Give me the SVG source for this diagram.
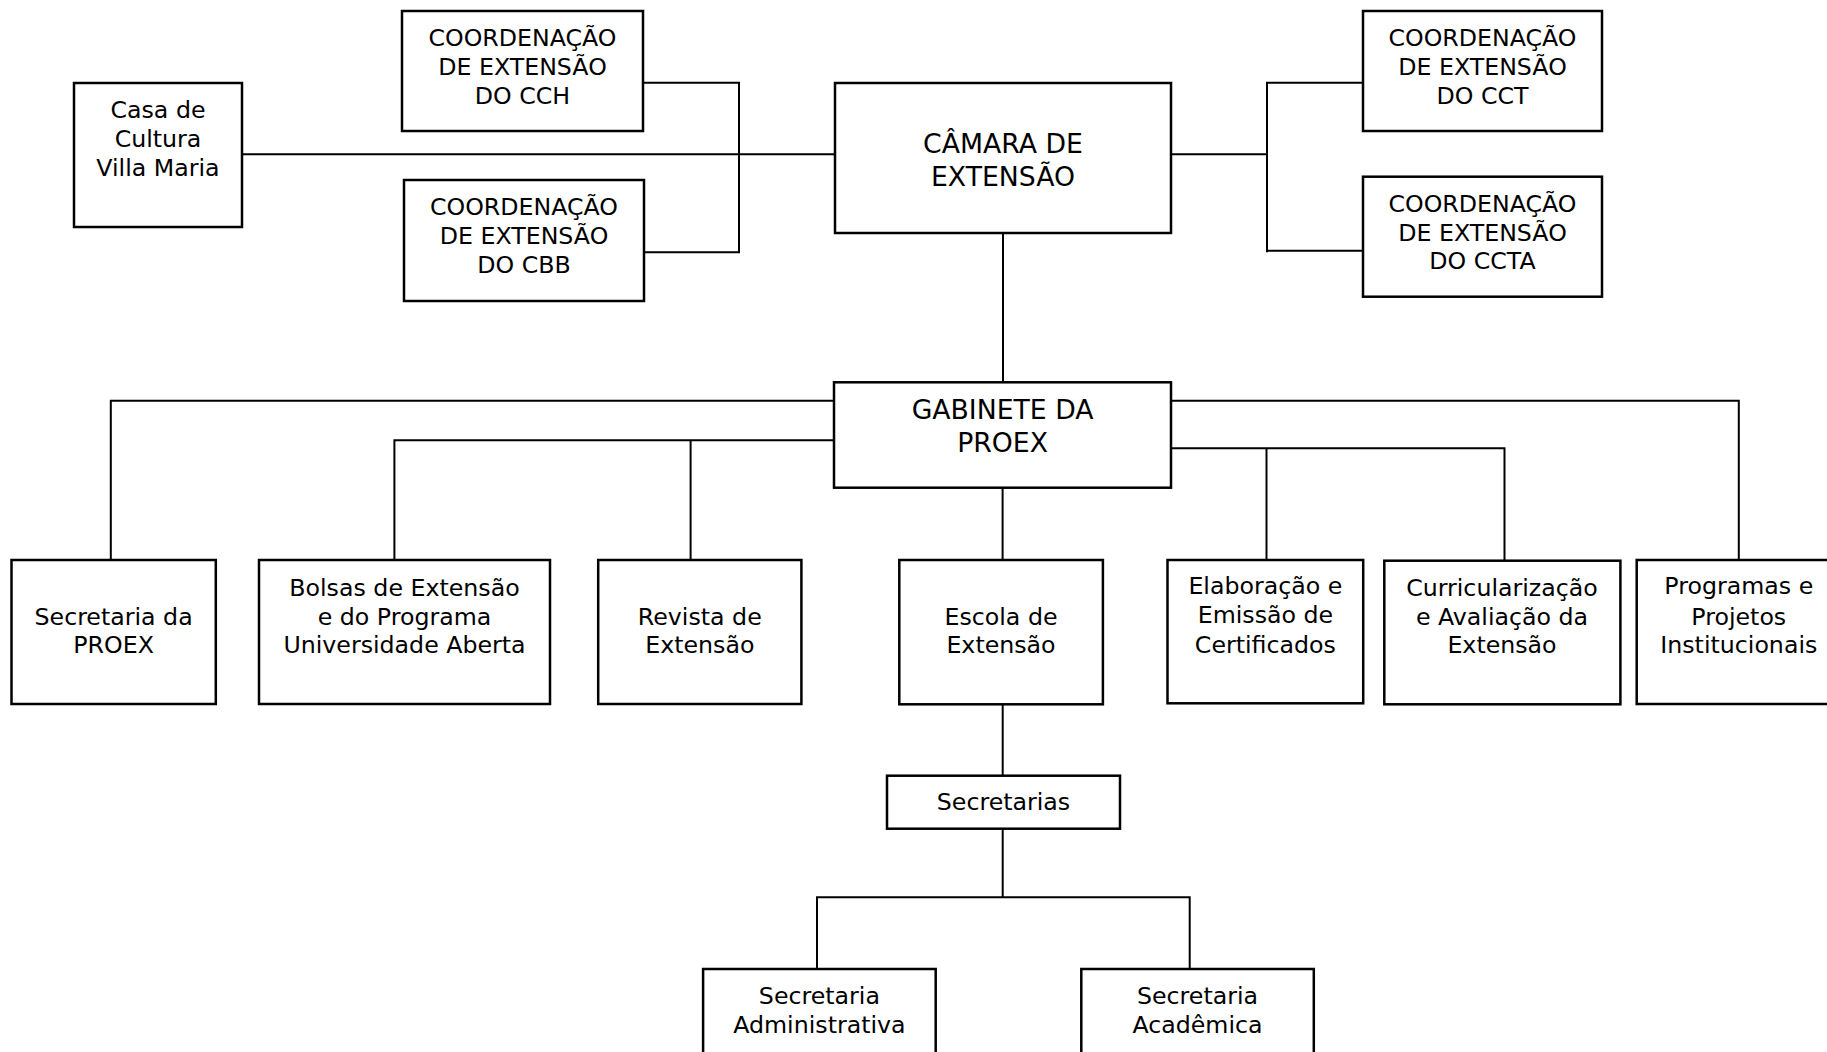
<svg xmlns="http://www.w3.org/2000/svg" width="1827" height="1052" viewBox="0 0 1827 1052">
<style>
.box{fill:#fff;stroke:#000;stroke-width:2.5}
.c{fill:none;stroke:#000;stroke-width:2}
text{font-family:"DejaVu Sans",Verdana,sans-serif;font-size:23.7px;fill:#000;text-anchor:middle}
.big{font-size:26.7px}
</style>
<rect width="1827" height="1052" fill="#fff"/>
<g id="connectors">
<path class="c" d="M242,154.3H835"/>
<path class="c" d="M643,82.7H739V252.3H644"/>
<path class="c" d="M1171,154.3H1267"/>
<path class="c" d="M1363,82.7H1267V252.3"/>
<path class="c" d="M1267,250.7H1363"/>
<path class="c" d="M1003,233V382"/>
<path class="c" d="M834,400.7H110.8V560"/>
<path class="c" d="M834,440.3H394.4V560"/>
<path class="c" d="M690.6,440.3V560"/>
<path class="c" d="M1002.6,488V560"/>
<path class="c" d="M1171,400.7H1738.8V560"/>
<path class="c" d="M1171,448.3H1504.5V560"/>
<path class="c" d="M1266.5,448.3V560"/>
<path class="c" d="M1002.7,704V775.7"/>
<path class="c" d="M1002.7,828.7V897.3"/>
<path class="c" d="M817,969V897.3H1189.7V969"/>
</g>
<g id="casa"><rect class="box" x="74" y="83" width="168" height="144"/>
<text x="158" y="118">Casa de</text><text x="158" y="147">Cultura</text><text x="158" y="176">Villa Maria</text></g>
<g id="cch"><rect class="box" x="402" y="11" width="241" height="120"/>
<text x="522.5" y="45.7">COORDENAÇÃO</text><text x="522.5" y="75">DE EXTENSÃO</text><text x="522.5" y="104">DO CCH</text></g>
<g id="cbb"><rect class="box" x="404" y="180" width="240" height="121"/>
<text x="524" y="215">COORDENAÇÃO</text><text x="524" y="244.3">DE EXTENSÃO</text><text x="524" y="273.3">DO CBB</text></g>
<g id="camara"><rect class="box" x="835" y="83" width="336" height="150"/>
<text class="big" x="1003" y="152.7">CÂMARA DE</text><text class="big" x="1003" y="185.7">EXTENSÃO</text></g>
<g id="cct"><rect class="box" x="1363" y="11" width="239" height="120"/>
<text x="1482.5" y="45.7">COORDENAÇÃO</text><text x="1482.5" y="75">DE EXTENSÃO</text><text x="1482.5" y="104">DO CCT</text></g>
<g id="ccta"><rect class="box" x="1363" y="176.7" width="239" height="120"/>
<text x="1482.5" y="211.7">COORDENAÇÃO</text><text x="1482.5" y="240.7">DE EXTENSÃO</text><text x="1482.5" y="269.3">DO CCTA</text></g>
<g id="gabinete"><rect class="box" x="834" y="382.3" width="337" height="105.4"/>
<text class="big" x="1002.6" y="419">GABINETE DA</text><text class="big" x="1002.6" y="451.7">PROEX</text></g>
<g id="secproex"><rect class="box" x="11.5" y="560" width="204.3" height="144"/>
<text x="113.6" y="625">Secretaria da</text><text x="113.6" y="653.3">PROEX</text></g>
<g id="bolsas"><rect class="box" x="259" y="560" width="291" height="144"/>
<text x="404.5" y="595.7">Bolsas de Extensão</text><text x="404.5" y="625">e do Programa</text><text x="404.5" y="653.3">Universidade Aberta</text></g>
<g id="revista"><rect class="box" x="598.2" y="560" width="203.2" height="144"/>
<text x="699.8" y="625">Revista de</text><text x="699.8" y="653.3">Extensão</text></g>
<g id="escola"><rect class="box" x="899.3" y="560" width="203.6" height="144.3"/>
<text x="1001" y="625">Escola de</text><text x="1001" y="653.3">Extensão</text></g>
<g id="elaboracao"><rect class="box" x="1167.5" y="560" width="195.7" height="143.3"/>
<text x="1265.4" y="594">Elaboração e</text><text x="1265.4" y="623.3">Emissão de</text><text x="1265.4" y="652.7">Certificados</text></g>
<g id="curricularizacao"><rect class="box" x="1384.3" y="560.7" width="236.1" height="143.6"/>
<text x="1502" y="595.7">Curricularização</text><text x="1502" y="625">e Avaliação da</text><text x="1502" y="653.3">Extensão</text></g>
<g id="programas"><rect class="box" x="1636.7" y="560" width="205" height="144"/>
<text x="1738.8" y="594">Programas e</text><text x="1738.8" y="625">Projetos</text><text x="1738.8" y="652.7">Institucionais</text></g>
<g id="secretarias"><rect class="box" x="887" y="775.7" width="233" height="53"/>
<text x="1003.5" y="810">Secretarias</text></g>
<g id="secadm"><rect class="box" x="703.1" y="969" width="232.6" height="100"/>
<text x="819.4" y="1004">Secretaria</text><text x="819.4" y="1033.3">Administrativa</text></g>
<g id="secacad"><rect class="box" x="1081.3" y="969" width="232.5" height="100"/>
<text x="1197.5" y="1004">Secretaria</text><text x="1197.5" y="1033.3">Acadêmica</text></g>
</svg>
